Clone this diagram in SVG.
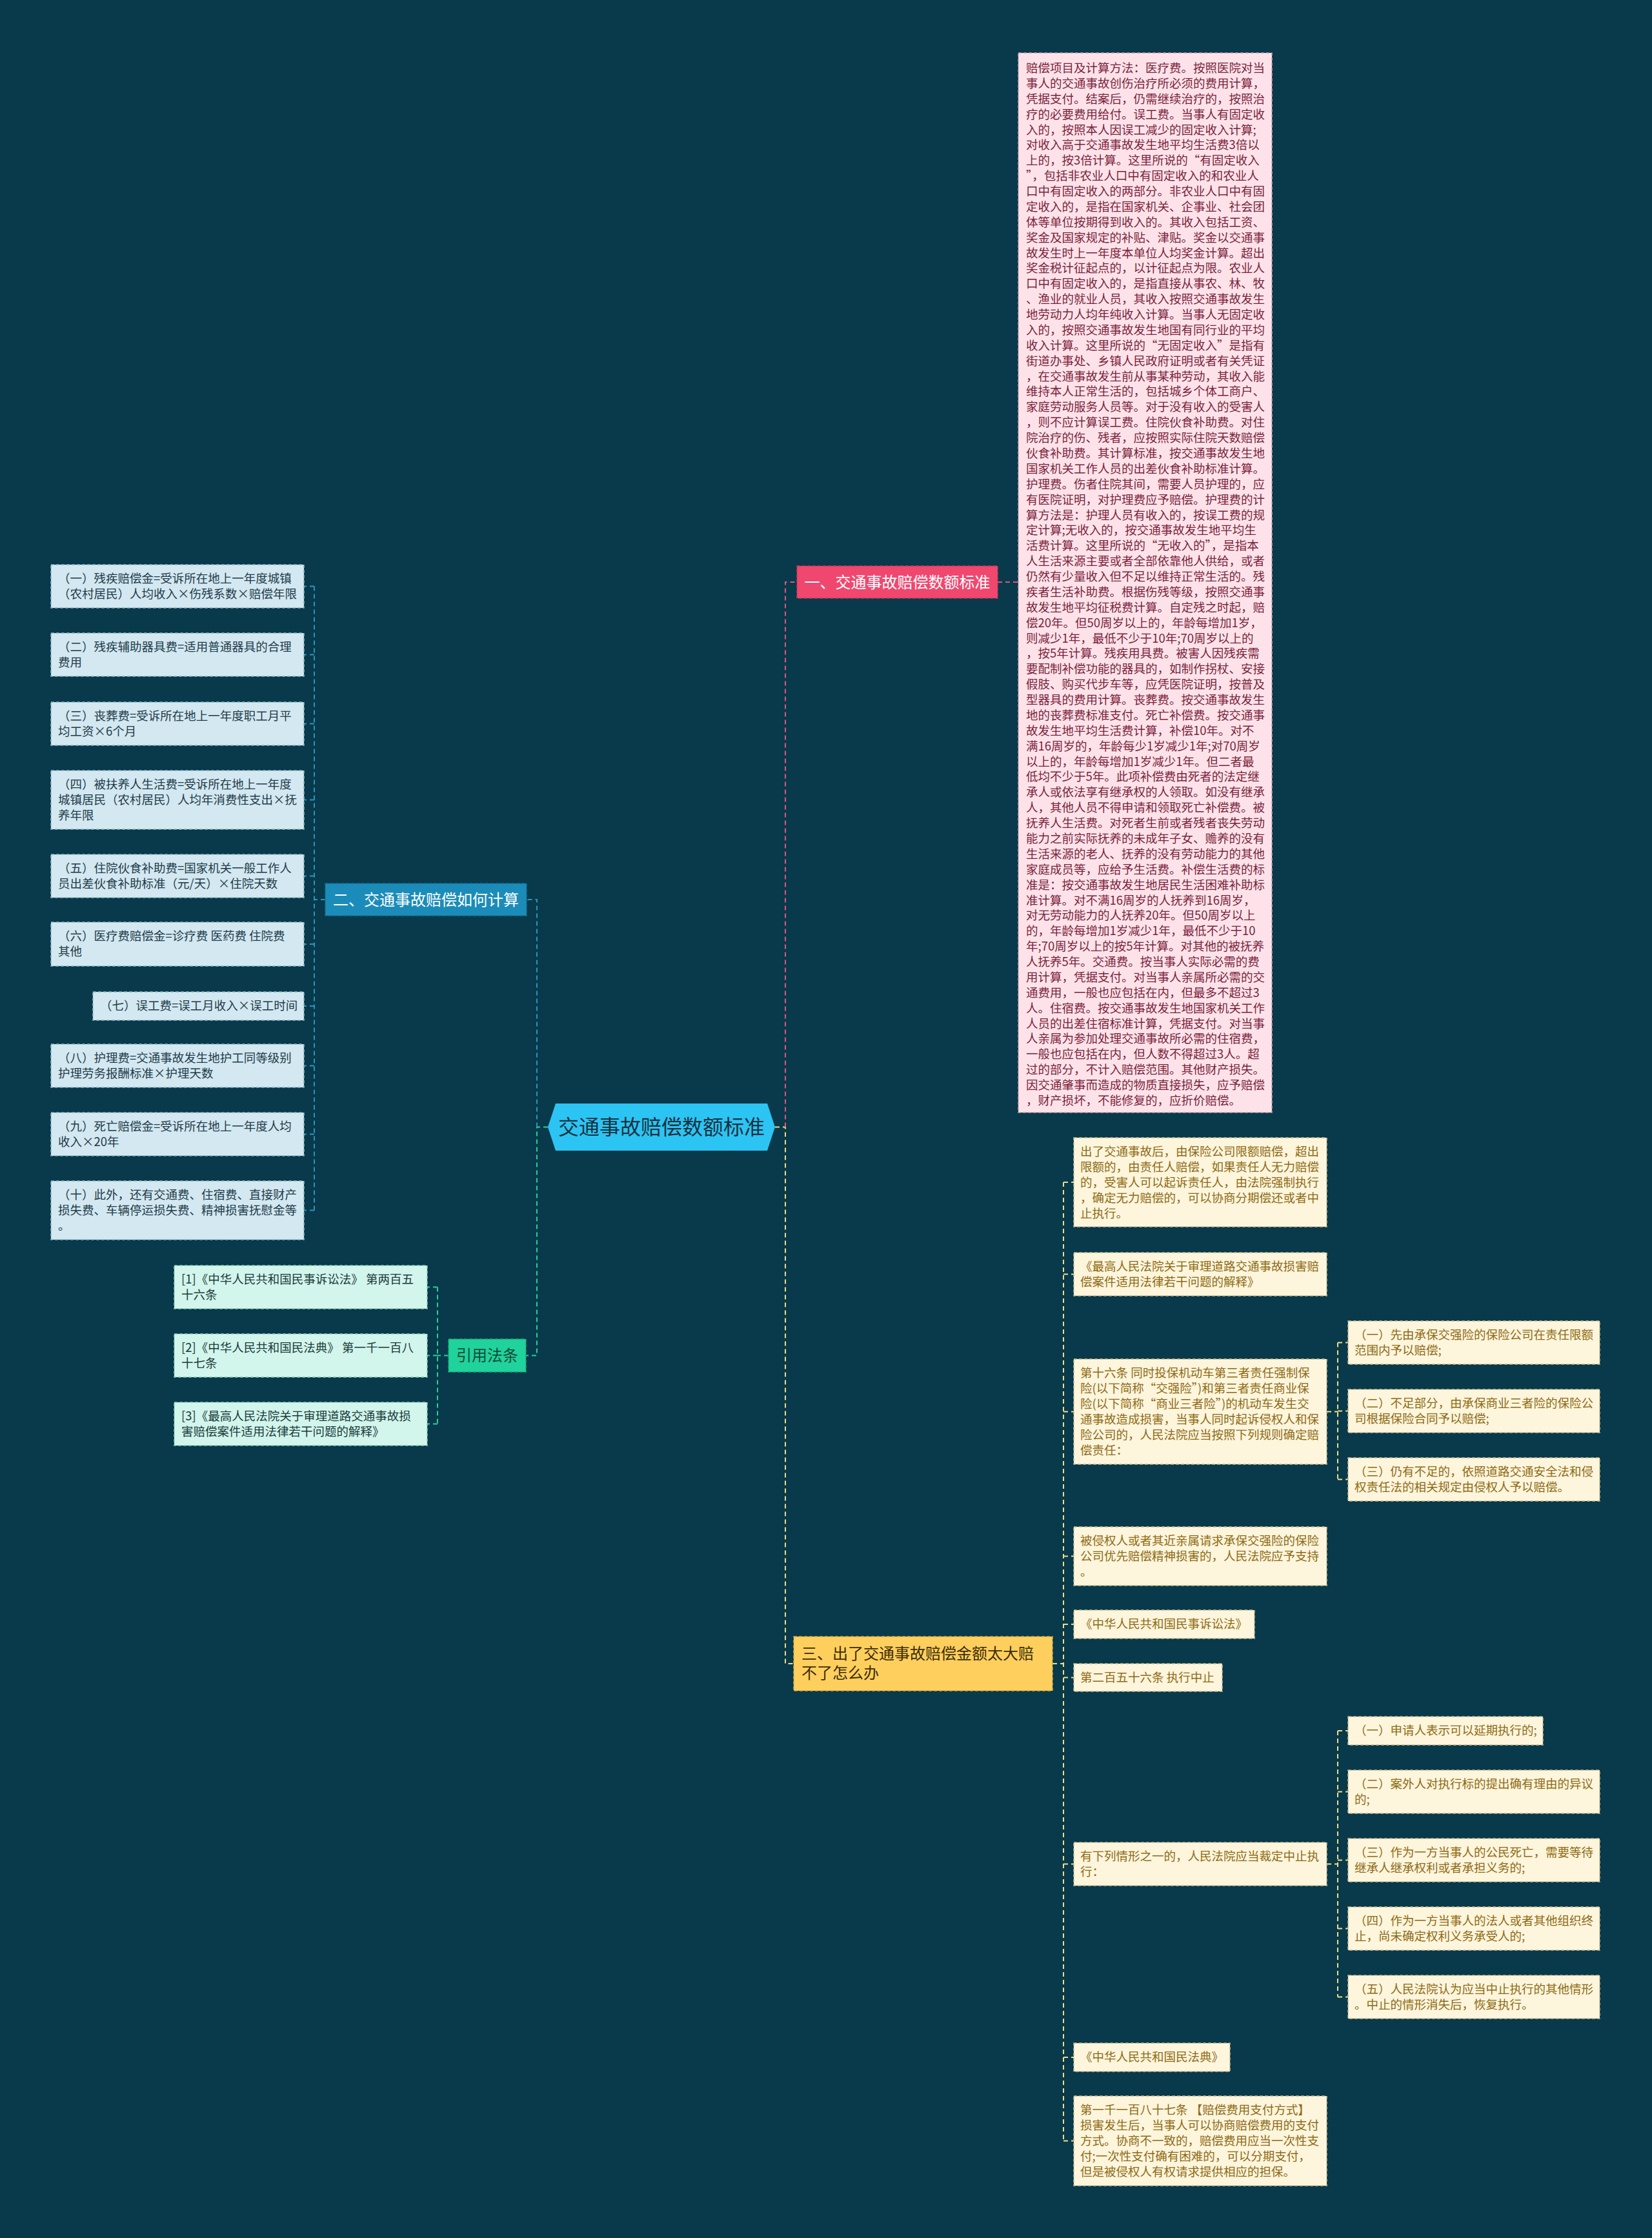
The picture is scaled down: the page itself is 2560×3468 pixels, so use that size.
<svg xmlns="http://www.w3.org/2000/svg" width="2560" height="3468" viewBox="0 0 2560 3468">
<style>
text{font-family:"Noto Sans CJK SC","Noto Sans",sans-serif;}
.t{font-size:18.5px;}
.pinkleaf{fill:#fde3e9;stroke:#c99aa8;stroke-width:1.5;stroke-dasharray:5,3;}
.pinktxt{fill:#7b1f3c;}
.blueleaf{fill:#d3e8f0;stroke:#8fb4c4;stroke-width:1.5;stroke-dasharray:5,3;}
.bluetxt{fill:#1e3b4a;}
.greenleaf{fill:#d2f5ec;stroke:#8cc9b8;stroke-width:1.5;stroke-dasharray:5,3;}
.greentxt{fill:#1a3b3a;}
.yleaf{fill:#fdf5dc;stroke:#c9b98a;stroke-width:1.5;stroke-dasharray:5,3;}
.ytxt{fill:#8d6a14;}
.c{fill:none;stroke-width:2;stroke-dasharray:7,5;}
.cp{stroke:#e0557a;}
.cb{stroke:#2a93c0;}
.cg{stroke:#24cf9c;}
.cy{stroke:#f3dc86;}
.br{font-size:24px;}
</style>
<rect x="0" y="0" width="2560" height="3468" fill="#083a4b"/>

<g id="connectors">
  <!-- central to right -->
  <path class="c cy" d="M1201,1746.5 H1217 V2578 H1230"/>
  <path class="c cp" d="M1217,1746.5 V902 H1235"/>
  <path class="c cp" d="M1546,902 H1578"/>
  <!-- central to left -->
  <path class="c cg" d="M849,1746.5 H832 V2100.5 H815"/>
  <path class="c cb" d="M832,1746.5 V1394 H816"/>
  <!-- blue leaves -->
  <path class="c cb" d="M504,1394 H487 M487,908.5 V1875.5 M487,908.5 H471 M487,1014.5 H471 M487,1121.5 H471 M487,1239.5 H471 M487,1357.5 H471 M487,1463 H471 M487,1559 H471 M487,1651.5 H471 M487,1757.5 H471 M487,1875.5 H471"/>
  <!-- cite leaves -->
  <path class="c cg" d="M695,2100.5 H678 M678,1994.5 V2206.5 M678,1994.5 H662 M678,2100.5 H662 M678,2206.5 H662"/>
  <!-- yellow A column -->
  <path class="c cy" d="M1631,2578 H1648 M1648,1832 V3317.5 M1648,1832 H1664 M1648,1974.5 H1664 M1648,2187.5 H1664 M1648,2411.5 H1664 M1648,2517 H1664 M1648,2599.5 H1664 M1648,2888.5 H1664 M1648,3188 H1664 M1648,3317.5 H1664"/>
  <!-- yellow B groups -->
  <path class="c cy" d="M2056,2187.5 H2073 M2073,2080.5 V2292.5 M2073,2080.5 H2089 M2073,2186.5 H2089 M2073,2292.5 H2089"/>
  <path class="c cy" d="M2056,2888.5 H2073 M2073,2682 V3094.5 M2073,2682 H2089 M2073,2776.5 H2089 M2073,2882.5 H2089 M2073,2988.5 H2089 M2073,3094.5 H2089"/>
</g>

<g id="root">
  <polygon points="861,1710 1189,1710 1201,1746.5 1189,1783 861,1783 849,1746.5" fill="#2cc4f3"/>
  <text x="1025" y="1758" font-size="32" text-anchor="middle" fill="#17323f">交通事故赔偿数额标准</text>
</g>

<g id="branch1">
  <rect x="1235" y="877" width="311" height="50" fill="#f0476f" stroke="#c23a5c" stroke-width="1.5" stroke-dasharray="5,3"/>
  <text class="br" x="1390.5" y="911" text-anchor="middle" fill="#ffffff">一、交通事故赔偿数额标准</text>
</g>

<g id="branch1-leaf">
  <rect class="pinkleaf" x="1578" y="82" width="393" height="1642"/>
  <text class="t pinktxt" x="1590" y="112">
    <tspan x="1590" dy="0">赔偿项目及计算方法：医疗费。按照医院对当</tspan>
    <tspan x="1590" dy="23.88">事人的交通事故创伤治疗所必须的费用计算，</tspan>
    <tspan x="1590" dy="23.88">凭据支付。结案后，仍需继续治疗的，按照治</tspan>
    <tspan x="1590" dy="23.88">疗的必要费用给付。误工费。当事人有固定收</tspan>
    <tspan x="1590" dy="23.88">入的，按照本人因误工减少的固定收入计算;</tspan>
    <tspan x="1590" dy="23.88">对收入高于交通事故发生地平均生活费3倍以</tspan>
    <tspan x="1590" dy="23.88">上的，按3倍计算。这里所说的“有固定收入</tspan>
    <tspan x="1590" dy="23.88">”，包括非农业人口中有固定收入的和农业人</tspan>
    <tspan x="1590" dy="23.88">口中有固定收入的两部分。非农业人口中有固</tspan>
    <tspan x="1590" dy="23.88">定收入的，是指在国家机关、企事业、社会团</tspan>
    <tspan x="1590" dy="23.88">体等单位按期得到收入的。其收入包括工资、</tspan>
    <tspan x="1590" dy="23.88">奖金及国家规定的补贴、津贴。奖金以交通事</tspan>
    <tspan x="1590" dy="23.88">故发生时上一年度本单位人均奖金计算。超出</tspan>
    <tspan x="1590" dy="23.88">奖金税计征起点的，以计征起点为限。农业人</tspan>
    <tspan x="1590" dy="23.88">口中有固定收入的，是指直接从事农、林、牧</tspan>
    <tspan x="1590" dy="23.88">、渔业的就业人员，其收入按照交通事故发生</tspan>
    <tspan x="1590" dy="23.88">地劳动力人均年纯收入计算。当事人无固定收</tspan>
    <tspan x="1590" dy="23.88">入的，按照交通事故发生地国有同行业的平均</tspan>
    <tspan x="1590" dy="23.88">收入计算。这里所说的“无固定收入”是指有</tspan>
    <tspan x="1590" dy="23.88">街道办事处、乡镇人民政府证明或者有关凭证</tspan>
    <tspan x="1590" dy="23.88">，在交通事故发生前从事某种劳动，其收入能</tspan>
    <tspan x="1590" dy="23.88">维持本人正常生活的，包括城乡个体工商户、</tspan>
    <tspan x="1590" dy="23.88">家庭劳动服务人员等。对于没有收入的受害人</tspan>
    <tspan x="1590" dy="23.88">，则不应计算误工费。住院伙食补助费。对住</tspan>
    <tspan x="1590" dy="23.88">院治疗的伤、残者，应按照实际住院天数赔偿</tspan>
    <tspan x="1590" dy="23.88">伙食补助费。其计算标准，按交通事故发生地</tspan>
    <tspan x="1590" dy="23.88">国家机关工作人员的出差伙食补助标准计算。</tspan>
    <tspan x="1590" dy="23.88">护理费。伤者住院其间，需要人员护理的，应</tspan>
    <tspan x="1590" dy="23.88">有医院证明，对护理费应予赔偿。护理费的计</tspan>
    <tspan x="1590" dy="23.88">算方法是：护理人员有收入的，按误工费的规</tspan>
    <tspan x="1590" dy="23.88">定计算;无收入的，按交通事故发生地平均生</tspan>
    <tspan x="1590" dy="23.88">活费计算。这里所说的“无收入的”，是指本</tspan>
    <tspan x="1590" dy="23.88">人生活来源主要或者全部依靠他人供给，或者</tspan>
    <tspan x="1590" dy="23.88">仍然有少量收入但不足以维持正常生活的。残</tspan>
    <tspan x="1590" dy="23.88">疾者生活补助费。根据伤残等级，按照交通事</tspan>
    <tspan x="1590" dy="23.88">故发生地平均征税费计算。自定残之时起，赔</tspan>
    <tspan x="1590" dy="23.88">偿20年。但50周岁以上的，年龄每增加1岁，</tspan>
    <tspan x="1590" dy="23.88">则减少1年，最低不少于10年;70周岁以上的</tspan>
    <tspan x="1590" dy="23.88">，按5年计算。残疾用具费。被害人因残疾需</tspan>
    <tspan x="1590" dy="23.88">要配制补偿功能的器具的，如制作拐杖、安接</tspan>
    <tspan x="1590" dy="23.88">假肢、购买代步车等，应凭医院证明，按普及</tspan>
    <tspan x="1590" dy="23.88">型器具的费用计算。丧葬费。按交通事故发生</tspan>
    <tspan x="1590" dy="23.88">地的丧葬费标准支付。死亡补偿费。按交通事</tspan>
    <tspan x="1590" dy="23.88">故发生地平均生活费计算，补偿10年。对不</tspan>
    <tspan x="1590" dy="23.88">满16周岁的，年龄每少1岁减少1年;对70周岁</tspan>
    <tspan x="1590" dy="23.88">以上的，年龄每增加1岁减少1年。但二者最</tspan>
    <tspan x="1590" dy="23.88">低均不少于5年。此项补偿费由死者的法定继</tspan>
    <tspan x="1590" dy="23.88">承人或依法享有继承权的人领取。如没有继承</tspan>
    <tspan x="1590" dy="23.88">人，其他人员不得申请和领取死亡补偿费。被</tspan>
    <tspan x="1590" dy="23.88">抚养人生活费。对死者生前或者残者丧失劳动</tspan>
    <tspan x="1590" dy="23.88">能力之前实际抚养的未成年子女、赡养的没有</tspan>
    <tspan x="1590" dy="23.88">生活来源的老人、抚养的没有劳动能力的其他</tspan>
    <tspan x="1590" dy="23.88">家庭成员等，应给予生活费。补偿生活费的标</tspan>
    <tspan x="1590" dy="23.88">准是：按交通事故发生地居民生活困难补助标</tspan>
    <tspan x="1590" dy="23.88">准计算。对不满16周岁的人抚养到16周岁，</tspan>
    <tspan x="1590" dy="23.88">对无劳动能力的人抚养20年。但50周岁以上</tspan>
    <tspan x="1590" dy="23.88">的，年龄每增加1岁减少1年，最低不少于10</tspan>
    <tspan x="1590" dy="23.88">年;70周岁以上的按5年计算。对其他的被抚养</tspan>
    <tspan x="1590" dy="23.88">人抚养5年。交通费。按当事人实际必需的费</tspan>
    <tspan x="1590" dy="23.88">用计算，凭据支付。对当事人亲属所必需的交</tspan>
    <tspan x="1590" dy="23.88">通费用，一般也应包括在内，但最多不超过3</tspan>
    <tspan x="1590" dy="23.88">人。住宿费。按交通事故发生地国家机关工作</tspan>
    <tspan x="1590" dy="23.88">人员的出差住宿标准计算，凭据支付。对当事</tspan>
    <tspan x="1590" dy="23.88">人亲属为参加处理交通事故所必需的住宿费，</tspan>
    <tspan x="1590" dy="23.88">一般也应包括在内，但人数不得超过3人。超</tspan>
    <tspan x="1590" dy="23.88">过的部分，不计入赔偿范围。其他财产损失。</tspan>
    <tspan x="1590" dy="23.88">因交通肇事而造成的物质直接损失，应予赔偿</tspan>
    <tspan x="1590" dy="23.88">，财产损坏，不能修复的，应折价赔偿。</tspan>
  </text>
</g>

<g id="branch2">
  <rect x="504" y="1369" width="312" height="50" fill="#1b8cb9" stroke="#136f94" stroke-width="1.5" stroke-dasharray="5,3"/>
  <text class="br" x="660" y="1403" text-anchor="middle" fill="#ffffff">二、交通事故赔偿如何计算</text>
</g>

<g id="b2-leaf1"><rect class="blueleaf" x="79" y="875" width="392" height="67"/><text class="t bluetxt" x="90" y="903"><tspan x="90">（一）残疾赔偿金=受诉所在地上一年度城镇</tspan><tspan x="90" dy="24">（农村居民）人均收入×伤残系数×赔偿年限</tspan></text></g>
<g id="b2-leaf2"><rect class="blueleaf" x="79" y="981" width="392" height="67"/><text class="t bluetxt" x="90" y="1009"><tspan x="90">（二）残疾辅助器具费=适用普通器具的合理</tspan><tspan x="90" dy="24">费用</tspan></text></g>
<g id="b2-leaf3"><rect class="blueleaf" x="79" y="1088" width="392" height="67"/><text class="t bluetxt" x="90" y="1116"><tspan x="90">（三）丧葬费=受诉所在地上一年度职工月平</tspan><tspan x="90" dy="24">均工资×6个月</tspan></text></g>
<g id="b2-leaf4"><rect class="blueleaf" x="79" y="1194" width="392" height="91"/><text class="t bluetxt" x="90" y="1222"><tspan x="90">（四）被扶养人生活费=受诉所在地上一年度</tspan><tspan x="90" dy="24">城镇居民（农村居民）人均年消费性支出×抚</tspan><tspan x="90" dy="24">养年限</tspan></text></g>
<g id="b2-leaf5"><rect class="blueleaf" x="79" y="1324" width="392" height="67"/><text class="t bluetxt" x="90" y="1352"><tspan x="90">（五）住院伙食补助费=国家机关一般工作人</tspan><tspan x="90" dy="24">员出差伙食补助标准（元/天）×住院天数</tspan></text></g>
<g id="b2-leaf6"><rect class="blueleaf" x="79" y="1429" width="392" height="68"/><text class="t bluetxt" x="90" y="1457"><tspan x="90">（六）医疗费赔偿金=诊疗费 医药费 住院费</tspan><tspan x="90" dy="24">其他</tspan></text></g>
<g id="b2-leaf7"><rect class="blueleaf" x="144" y="1537" width="327" height="44"/><text class="t bluetxt" x="155" y="1565">（七）误工费=误工月收入×误工时间</text></g>
<g id="b2-leaf8"><rect class="blueleaf" x="79" y="1618" width="392" height="67"/><text class="t bluetxt" x="90" y="1646"><tspan x="90">（八）护理费=交通事故发生地护工同等级别</tspan><tspan x="90" dy="24">护理劳务报酬标准×护理天数</tspan></text></g>
<g id="b2-leaf9"><rect class="blueleaf" x="79" y="1724" width="392" height="67"/><text class="t bluetxt" x="90" y="1752"><tspan x="90">（九）死亡赔偿金=受诉所在地上一年度人均</tspan><tspan x="90" dy="24">收入×20年</tspan></text></g>
<g id="b2-leaf10"><rect class="blueleaf" x="79" y="1830" width="392" height="91"/><text class="t bluetxt" x="90" y="1858"><tspan x="90">（十）此外，还有交通费、住宿费、直接财产</tspan><tspan x="90" dy="24">损失费、车辆停运损失费、精神损害抚慰金等</tspan><tspan x="90" dy="24">。</tspan></text></g>

<g id="cite">
  <rect x="695" y="2075" width="120" height="51" fill="#20d29b" stroke="#16a87b" stroke-width="1.5" stroke-dasharray="5,3"/>
  <text class="br" x="755" y="2109" text-anchor="middle" fill="#134a3a">引用法条</text>
</g>
<g id="cite-leaf1"><rect class="greenleaf" x="270" y="1961" width="392" height="67"/><text class="t greentxt" x="281" y="1989"><tspan x="281">[1]《中华人民共和国民事诉讼法》 第两百五</tspan><tspan x="281" dy="24">十六条</tspan></text></g>
<g id="cite-leaf2"><rect class="greenleaf" x="270" y="2067" width="392" height="67"/><text class="t greentxt" x="281" y="2095"><tspan x="281">[2]《中华人民共和国民法典》 第一千一百八</tspan><tspan x="281" dy="24">十七条</tspan></text></g>
<g id="cite-leaf3"><rect class="greenleaf" x="270" y="2173" width="392" height="67"/><text class="t greentxt" x="281" y="2201"><tspan x="281">[3]《最高人民法院关于审理道路交通事故损</tspan><tspan x="281" dy="24">害赔偿案件适用法律若干问题的解释》</tspan></text></g>

<g id="branch3">
  <rect x="1230" y="2536" width="401" height="84" fill="#ffcf5e" stroke="#d9a93a" stroke-width="1.5" stroke-dasharray="5,3"/>
  <text class="br" x="1242" y="2571" fill="#3b2c05"><tspan x="1242">三、出了交通事故赔偿金额太大赔</tspan><tspan x="1242" dy="30">不了怎么办</tspan></text>
</g>

<g id="b3-a1"><rect class="yleaf" x="1664" y="1763" width="392" height="138"/><text class="t ytxt" x="1674" y="1791"><tspan x="1674">出了交通事故后，由保险公司限额赔偿，超出</tspan><tspan x="1674" dy="24">限额的，由责任人赔偿，如果责任人无力赔偿</tspan><tspan x="1674" dy="24">的，受害人可以起诉责任人，由法院强制执行</tspan><tspan x="1674" dy="24">，确定无力赔偿的，可以协商分期偿还或者中</tspan><tspan x="1674" dy="24">止执行。</tspan></text></g>
<g id="b3-a2"><rect class="yleaf" x="1664" y="1941" width="392" height="67"/><text class="t ytxt" x="1674" y="1969"><tspan x="1674">《最高人民法院关于审理道路交通事故损害赔</tspan><tspan x="1674" dy="24">偿案件适用法律若干问题的解释》</tspan></text></g>
<g id="b3-a3"><rect class="yleaf" x="1664" y="2106" width="392" height="163"/><text class="t ytxt" x="1674" y="2134"><tspan x="1674">第十六条 同时投保机动车第三者责任强制保</tspan><tspan x="1674" dy="24">险(以下简称“交强险”)和第三者责任商业保</tspan><tspan x="1674" dy="24">险(以下简称“商业三者险”)的机动车发生交</tspan><tspan x="1674" dy="24">通事故造成损害，当事人同时起诉侵权人和保</tspan><tspan x="1674" dy="24">险公司的，人民法院应当按照下列规则确定赔</tspan><tspan x="1674" dy="24">偿责任：</tspan></text></g>
<g id="b3-b1"><rect class="yleaf" x="2089" y="2047" width="390" height="67"/><text class="t ytxt" x="2099" y="2075"><tspan x="2099">（一）先由承保交强险的保险公司在责任限额</tspan><tspan x="2099" dy="24">范围内予以赔偿;</tspan></text></g>
<g id="b3-b2"><rect class="yleaf" x="2089" y="2153" width="390" height="67"/><text class="t ytxt" x="2099" y="2181"><tspan x="2099">（二）不足部分，由承保商业三者险的保险公</tspan><tspan x="2099" dy="24">司根据保险合同予以赔偿;</tspan></text></g>
<g id="b3-b3"><rect class="yleaf" x="2089" y="2259" width="390" height="67"/><text class="t ytxt" x="2099" y="2287"><tspan x="2099">（三）仍有不足的，依照道路交通安全法和侵</tspan><tspan x="2099" dy="24">权责任法的相关规定由侵权人予以赔偿。</tspan></text></g>
<g id="b3-a4"><rect class="yleaf" x="1664" y="2366" width="392" height="91"/><text class="t ytxt" x="1674" y="2394"><tspan x="1674">被侵权人或者其近亲属请求承保交强险的保险</tspan><tspan x="1674" dy="24">公司优先赔偿精神损害的，人民法院应予支持</tspan><tspan x="1674" dy="24">。</tspan></text></g>
<g id="b3-a5"><rect class="yleaf" x="1664" y="2495" width="280" height="44"/><text class="t ytxt" x="1674" y="2523">《中华人民共和国民事诉讼法》</text></g>
<g id="b3-a6"><rect class="yleaf" x="1664" y="2578" width="230" height="43"/><text class="t ytxt" x="1674" y="2606">第二百五十六条 执行中止</text></g>
<g id="b3-a7"><rect class="yleaf" x="1664" y="2855" width="392" height="67"/><text class="t ytxt" x="1674" y="2883"><tspan x="1674">有下列情形之一的，人民法院应当裁定中止执</tspan><tspan x="1674" dy="24">行：</tspan></text></g>
<g id="b3-b4"><rect class="yleaf" x="2089" y="2660" width="302" height="44"/><text class="t ytxt" x="2099" y="2688">（一）申请人表示可以延期执行的;</text></g>
<g id="b3-b5"><rect class="yleaf" x="2089" y="2743" width="390" height="67"/><text class="t ytxt" x="2099" y="2771"><tspan x="2099">（二）案外人对执行标的提出确有理由的异议</tspan><tspan x="2099" dy="24">的;</tspan></text></g>
<g id="b3-b6"><rect class="yleaf" x="2089" y="2849" width="390" height="67"/><text class="t ytxt" x="2099" y="2877"><tspan x="2099">（三）作为一方当事人的公民死亡，需要等待</tspan><tspan x="2099" dy="24">继承人继承权利或者承担义务的;</tspan></text></g>
<g id="b3-b7"><rect class="yleaf" x="2089" y="2955" width="390" height="67"/><text class="t ytxt" x="2099" y="2983"><tspan x="2099">（四）作为一方当事人的法人或者其他组织终</tspan><tspan x="2099" dy="24">止，尚未确定权利义务承受人的;</tspan></text></g>
<g id="b3-b8"><rect class="yleaf" x="2089" y="3061" width="390" height="67"/><text class="t ytxt" x="2099" y="3089"><tspan x="2099">（五）人民法院认为应当中止执行的其他情形</tspan><tspan x="2099" dy="24">。中止的情形消失后，恢复执行。</tspan></text></g>
<g id="b3-a8"><rect class="yleaf" x="1664" y="3166" width="242" height="44"/><text class="t ytxt" x="1674" y="3194">《中华人民共和国民法典》</text></g>
<g id="b3-a9"><rect class="yleaf" x="1664" y="3248" width="392" height="139"/><text class="t ytxt" x="1674" y="3276"><tspan x="1674">第一千一百八十七条 【赔偿费用支付方式】</tspan><tspan x="1674" dy="24">损害发生后，当事人可以协商赔偿费用的支付</tspan><tspan x="1674" dy="24">方式。协商不一致的，赔偿费用应当一次性支</tspan><tspan x="1674" dy="24">付;一次性支付确有困难的，可以分期支付，</tspan><tspan x="1674" dy="24">但是被侵权人有权请求提供相应的担保。</tspan></text></g>
</svg>
